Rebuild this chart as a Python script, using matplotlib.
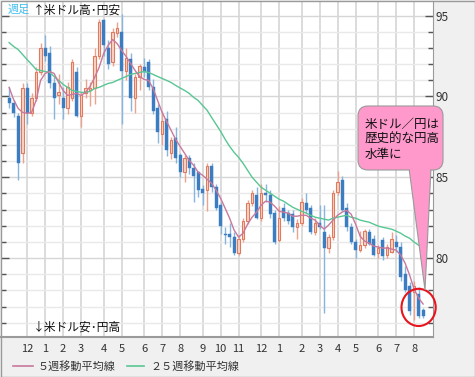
import matplotlib
matplotlib.use("Agg")
import matplotlib.pyplot as plt
from matplotlib.patches import FancyBboxPatch, Polygon, Ellipse, Rectangle
from matplotlib.lines import Line2D
import numpy as np

plt.rcParams["font.family"] = ["Noto Sans CJK JP", "DejaVu Sans"]

# Weekly USD/JPY, Nov 2009 - Aug 2011
opens = [89.9, 89.6, 88.8, 86.5, 90.5, 89.0, 89.9, 91.5, 93.0, 92.7,
         90.8, 90.1, 89.9, 89.3, 89.9, 91.5, 88.8, 90.2, 90.4, 90.5,
         92.5, 94.7, 93.0, 92.1, 93.9, 94.0, 91.6, 92.3, 89.9, 91.2,
         91.8, 92.1, 90.6, 89.3, 87.7, 88.6, 86.5, 87.4, 86.4, 85.3,
         86.2, 85.6, 85.3, 84.3, 84.2, 85.7, 84.4, 83.3, 81.5, 81.5,
         81.3, 80.3, 81.2, 82.3, 83.4, 83.9, 82.5, 84.0, 83.9, 82.8,
         81.1, 83.1, 82.8, 82.7, 81.9, 82.2, 83.4, 83.1, 81.6, 82.2,
         81.6, 80.6, 81.3, 84.1, 84.8, 83.1, 81.9, 81.0, 80.5, 80.8,
         81.6, 81.2, 80.3, 81.1, 80.2, 80.4, 81.0, 80.7, 79.0, 78.3,
         77.9, 77.8, 76.8]
highs = [90.6, 89.8, 89.0, 90.8, 90.8, 90.2, 91.8, 93.3, 93.8, 93.1,
         91.2, 91.4, 90.6, 90.9, 92.3, 91.8, 90.3, 91.1, 90.9, 93.0,
         94.8, 94.8, 93.5, 94.2, 94.6, 95.1, 93.0, 92.7, 91.4, 92.0,
         92.4, 92.3, 91.1, 89.5, 89.1, 89.1, 87.5, 88.1, 86.5, 86.4,
         86.4, 85.9, 85.4, 84.5, 85.9, 85.9, 84.6, 83.5, 81.9, 82.2,
         81.6, 81.4, 82.5, 83.6, 84.2, 84.4, 84.6, 84.6, 84.2, 83.0,
         83.2, 83.4, 83.0, 83.0, 82.4, 83.7, 84.0, 83.3, 82.5, 83.3,
         83.3, 81.5, 84.2, 85.4, 85.1, 83.4, 82.2, 81.2, 81.7, 81.8,
         81.8, 81.4, 80.8, 81.3, 80.9, 81.6, 81.4, 81.0, 79.5, 78.5,
         78.6, 78.2, 76.9]
lows = [89.3, 88.7, 84.8, 85.9, 88.3, 88.8, 89.7, 91.3, 92.2, 90.5,
        88.6, 89.5, 88.6, 88.9, 89.7, 88.7, 88.1, 89.9, 89.4, 89.5,
        92.3, 92.5, 91.7, 91.9, 93.7, 88.3, 91.0, 89.1, 89.0, 90.4,
        91.2, 90.4, 88.9, 87.1, 87.0, 86.3, 86.1, 85.9, 85.0, 84.7,
        85.2, 83.5, 83.8, 83.3, 82.9, 84.1, 83.0, 81.5, 80.9, 80.7,
        80.2, 80.2, 81.0, 82.1, 83.2, 82.4, 82.3, 83.5, 82.5, 80.9,
        81.0, 82.3, 82.1, 81.6, 81.2, 82.0, 82.8, 81.5, 81.4, 81.8,
        76.6, 80.3, 81.1, 83.9, 82.9, 81.7, 80.9, 80.0, 80.4, 80.6,
        80.8, 80.1, 80.0, 79.9, 80.0, 80.3, 80.4, 78.6, 77.9, 76.5,
        76.2, 76.3, 76.3]
closes = [89.6, 89.0, 85.9, 90.5, 89.0, 89.9, 91.5, 93.0, 92.5, 90.8,
          89.9, 90.3, 89.3, 90.6, 92.1, 88.8, 90.1, 90.5, 90.5, 92.5,
          94.6, 93.2, 92.0, 94.0, 94.2, 91.6, 92.4, 89.9, 91.2, 91.9,
          91.5, 90.6, 89.1, 87.8, 88.5, 86.7, 87.3, 86.2, 85.3, 86.2,
          85.6, 85.1, 84.2, 84.0, 85.7, 84.4, 83.1, 82.0, 81.4, 81.3,
          80.3, 81.2, 82.3, 83.4, 84.0, 82.5, 84.0, 83.9, 82.7, 81.0,
          82.5, 82.5, 82.3, 81.9, 82.2, 83.5, 83.0, 81.6, 82.2, 81.9,
          80.6, 81.3, 84.0, 84.7, 83.0, 81.9, 81.0, 80.5, 80.8, 81.7,
          80.9, 80.2, 80.6, 80.1, 80.7, 81.2, 80.7, 78.8, 78.0, 76.7,
          78.3, 76.4, 76.4]

ma5 = [90.56, 89.81, 89.26, 89.01, 88.95, 89.01, 89.75, 90.99, 91.42, 91.54,
       91.42, 90.86, 90.37, 90.06, 90.12, 90.19, 90.06, 90.25, 90.62, 91.17,
       91.79, 92.65, 93.15, 93.52, 93.27, 92.84, 92.47, 92.04, 91.60, 91.23,
       91.05, 90.99, 90.49, 89.75, 89.01, 88.46, 87.90, 87.35, 86.91, 86.48,
       86.05, 85.74, 85.31, 85.12, 84.88, 84.63, 84.20, 83.70, 83.09, 82.47,
       81.73, 81.30, 81.54, 82.10, 82.53, 82.84, 83.27, 83.52, 83.46, 83.21,
       82.90, 82.84, 82.78, 82.59, 82.59, 82.65, 82.65, 82.47, 82.35, 82.04,
       81.79, 82.04, 82.35, 82.65, 82.84, 82.96, 82.72, 82.10, 81.36, 81.05,
       80.93, 80.74, 80.68, 80.62, 80.62, 80.56, 80.49, 80.19, 79.69, 78.95,
       78.09, 77.53, 77.16]
ma25 = [93.33, 93.09, 92.90, 92.59, 92.28, 91.98, 91.67, 91.60, 91.54, 91.48,
        91.23, 90.99, 90.74, 90.56, 90.37, 90.31, 90.25, 90.25, 90.31, 90.49,
        90.56, 90.68, 90.80, 90.86, 90.99, 91.11, 91.23, 91.36, 91.42, 91.48,
        91.54, 91.48, 91.36, 91.23, 91.11, 90.99, 90.86, 90.68, 90.52, 90.37,
        90.19, 89.94, 89.75, 89.44, 89.14, 88.70, 88.27, 87.84, 87.35, 86.91,
        86.54, 86.23, 85.86, 85.43, 85.00, 84.69, 84.38, 84.20, 84.01, 83.83,
        83.64, 83.52, 83.33, 83.15, 83.02, 82.90, 82.78, 82.65, 82.53, 82.47,
        82.41, 82.35, 82.47, 82.53, 82.59, 82.65, 82.53, 82.47, 82.35, 82.28,
        82.22, 82.10, 81.98, 81.91, 81.85, 81.79, 81.67, 81.54, 81.36, 81.23,
        80.99, 80.80, 80.62]

month_start_week = [4, 8, 12, 16, 21, 25, 30, 34, 38, 43, 47,
                    51, 56, 60, 65, 69, 73, 77, 82, 86, 90]
month_labels = ["12", "1", "2", "3", "4", "5", "6", "7", "8", "9", "10",
                "11", "12", "1", "2", "3", "4", "5", "6", "7", "8"]
callout_text = "米ドル／円は\n歴史的な円高\n水準に"

BLUE = "#3b7dc0"
BLUE_WICK = "#86b5dd"
RED_EDGE = "#e07a5e"
RED_FILL = "#f8d4c6"
RED_WICK = "#eda28e"
MA5_COLOR = "#c8799c"
MA25_COLOR = "#58c693"

W, H = 475, 377
fig = plt.figure(figsize=(W / 100, H / 100), dpi=100, facecolor="#f0f0f0")
ax = fig.add_axes([1 / W, 40 / H, 432 / W, 336 / H], facecolor="white")

o = np.array(opens)
hi = np.array(highs)
lo = np.array(lows)
c = np.array(closes)
x = np.arange(len(o))
up = c >= o

ax.vlines(x[up], lo[up], hi[up], color=RED_WICK, lw=1.0, zorder=2)
ax.vlines(x[~up], lo[~up], hi[~up], color=BLUE_WICK, lw=1.0, zorder=2)
ax.bar(x[up], c[up] - o[up], bottom=o[up], width=0.62, color=RED_FILL,
       edgecolor=RED_EDGE, linewidth=0.8, zorder=3)
ax.bar(x[~up], o[~up] - c[~up], bottom=c[~up], width=0.7, color=BLUE,
       edgecolor=BLUE, linewidth=0.3, zorder=3)

ax.plot(x, ma25, color=MA25_COLOR, lw=1.0, zorder=4)
ax.plot(x, ma5, color=MA5_COLOR, lw=1.0, zorder=4)

ax.set_xlim(-1.8, 94.2)
ax.set_ylim(75.12, 95.9)

ax.set_xticks(month_start_week)
ax.set_xticklabels(month_labels)
ax.set_yticks([80, 85, 90, 95])
ax.set_yticks(np.arange(76, 96, 1), minor=True)
ax.tick_params(axis="x", length=0, labelsize=8, labelcolor="#333333", pad=5)
ax.tick_params(axis="y", which="both", direction="in", left=True, right=True,
               labelleft=False, labelright=True, labelsize=8.5,
               labelcolor="#333333", color="#555555", pad=2)
ax.tick_params(axis="y", which="major", length=6, width=1)
ax.tick_params(axis="y", which="minor", length=3.5, width=1)

ax.grid(axis="x", color="#d6d6d6", lw=1.2, zorder=0)
ax.grid(axis="y", which="major", color="#d6d6d6", lw=1.0, zorder=0)
ax.grid(axis="y", which="minor", color="#e9e9e9", lw=1.0, zorder=0)
ax.set_axisbelow(True)

for side in ["top", "left"]:
    ax.spines[side].set_visible(False)
ax.spines["right"].set_color("#9a9a9a")
ax.spines["bottom"].set_color("#9a9a9a")
ax.spines["bottom"].set_linewidth(1.5)

# highlight circle around the latest weeks
ax.add_patch(Ellipse((91.0, 76.95), 7.6, 2.3, fill=False, edgecolor="#e8141e",
                     lw=1.5, zorder=6, clip_on=False))

# overlay in pixel units for texts, callout and legend
ov = fig.add_axes([0, 0, 1, 1], facecolor="none")
ov.set_xlim(0, W)
ov.set_ylim(H, 0)
ov.axis("off")

ov.text(8, 10, "週足", color="#3fbfef", fontsize=8, va="center")
ov.text(33, 10, "↑米ドル高･円安", color="#111111", fontsize=8.5, va="center")
ov.text(33, 327, "↓米ドル安･円高", color="#111111", fontsize=8.5, va="center")

ov.add_patch(Polygon([(409, 168), (431, 168), (425, 290)], closed=True,
                     facecolor="#ff99cc", edgecolor="#999999", lw=0.8, zorder=7))
ov.add_patch(FancyBboxPatch((358, 106), 85, 64, boxstyle="round,pad=0,rounding_size=10",
                            facecolor="#ff99cc", edgecolor="#999999", lw=0.8, zorder=8))
ov.add_patch(Rectangle((410, 166), 20, 6, facecolor="#ff99cc", edgecolor="none", zorder=9))
ov.text(365, 139, callout_text, fontsize=9, color="#111111", va="center",
        linespacing=1.2, zorder=10)

ov.add_line(Line2D([13, 33], [366, 366], color=MA5_COLOR, lw=1.2))
ov.text(38, 366, "５週移動平均線", fontsize=8, color="#333333", va="center")
ov.add_line(Line2D([127, 144], [366, 366], color=MA25_COLOR, lw=1.2))
ov.text(150, 366, "２５週移動平均線", fontsize=8, color="#333333", va="center")

ov.add_patch(Rectangle((0.5, 0.5), W - 1, H - 1, fill=False, edgecolor="#9a9a9a", lw=1))

fig.savefig("out.png", dpi=100, facecolor=fig.get_facecolor())
